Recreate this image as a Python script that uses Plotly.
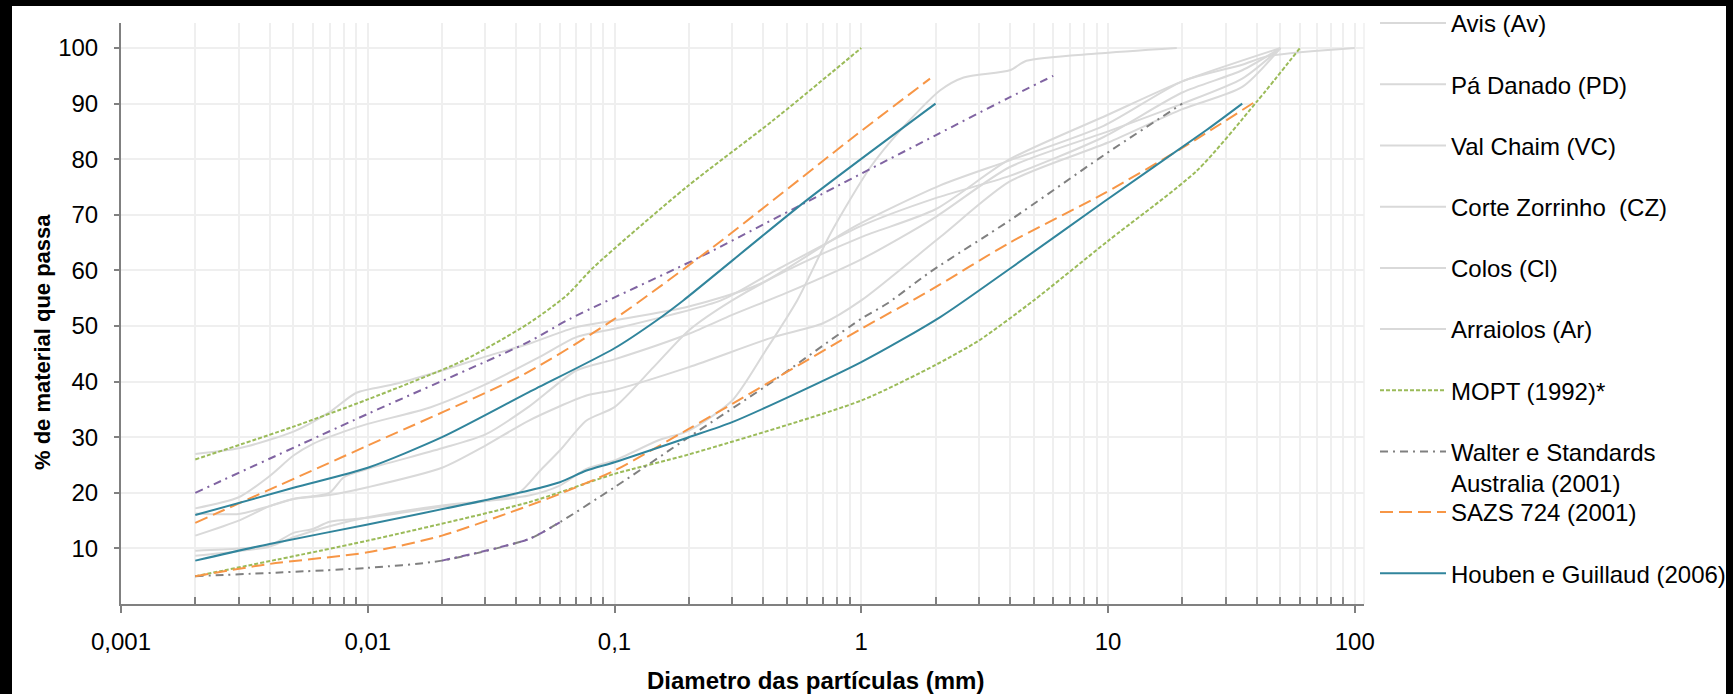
import plotly.graph_objects as go

# ---------------- data ----------------
avis_x = [0.002, 0.003, 0.005, 0.007, 0.009, 0.013, 0.02, 0.03, 0.045, 0.07, 0.1, 0.2, 0.39, 0.93, 2.09, 4, 9.6, 20, 35, 44, 100]
avis_y = [27, 28, 31, 34.5, 38, 39.6, 42, 44.5, 46.8, 49.8, 51, 53.5, 57.6, 67.8, 75.3, 79.8, 86, 94, 97, 98.5, 100]

pd_x = [0.002, 0.003, 0.004, 0.005, 0.006, 0.008, 0.01, 0.018, 0.03, 0.05, 0.07, 0.1, 0.27, 0.45, 1, 2, 4, 9.6, 20, 35, 50]
pd_y = [17.2, 19.2, 23, 26.7, 28.8, 31, 32.4, 35.4, 39.5, 44.5, 48, 49.5, 54.6, 60, 68, 73, 77, 84, 92, 96, 100]

vc_x = [0.002, 0.003, 0.004, 0.005, 0.007, 0.008, 0.01, 0.02, 0.03, 0.045, 0.07, 0.1, 0.2, 0.3, 0.5, 1, 2, 4, 10, 20, 35, 50]
vc_y = [16.3, 16.2, 17.6, 18.9, 20, 22.8, 24.3, 28, 30.5, 35.5, 42, 44, 48.6, 52, 56, 62, 69.6, 78.6, 85, 90, 94.5, 100]

cz_x = [0.002, 0.003, 0.004, 0.005, 0.007, 0.01, 0.02, 0.03, 0.045, 0.077, 0.1, 0.2, 0.44, 0.7, 1, 2.09, 4, 10, 20, 35, 50]
cz_y = [12.3, 15, 17.6, 18.9, 19.6, 21, 24.5, 28.5, 33, 37.5, 38.5, 42.6, 48, 50.5, 54.6, 66, 76, 83, 89, 93, 100]

cl_x = [0.002, 0.003, 0.004, 0.005, 0.006, 0.007, 0.01, 0.02, 0.03, 0.041, 0.05, 0.06, 0.077, 0.1, 0.144, 0.2, 0.3, 0.5, 1, 2, 4, 10, 20, 50]
cl_y = [9.6, 10, 10.5, 12.8, 13.5, 14.8, 15.5, 17.5, 18.5, 20, 24, 27.6, 33, 35.4, 42.6, 49.2, 54.6, 60, 66, 71, 80, 88, 94, 100]

ar_x = [0.002, 0.003, 0.004, 0.005, 0.007, 0.01, 0.02, 0.03, 0.045, 0.06, 0.077, 0.1, 0.15, 0.2, 0.3, 0.41, 0.55, 0.75, 1.09, 1.44, 2.09, 2.6, 4, 4.67, 9, 19]
ar_y = [8.7, 9.5, 10.3, 12, 14, 15.6, 17.7, 18.5, 19.5, 21.3, 24.3, 25.8, 29.4, 31.2, 36.6, 45.6, 54.6, 66.6, 78.6, 85.2, 92.4, 94.7, 96, 97.7, 99, 100]

mopt_up_x = [0.002, 0.005, 0.01, 0.0244, 0.0446, 0.064, 0.082, 0.196, 0.44, 1]
mopt_up_y = [26, 31.9, 36.8, 43.8, 50.4, 55.5, 60.5, 75, 87, 100]
mopt_lo_x = [0.002, 0.01, 0.045, 0.1, 0.2, 1, 2, 3, 5, 10, 23, 40, 60]
mopt_lo_y = [5, 11.4, 18.3, 23.4, 26.9, 36.6, 43, 47.4, 54.6, 65.3, 78, 90.3, 100]

walter_up_x = [0.002, 0.01, 0.0446, 0.066, 0.222, 0.6, 2, 3.9, 6]
walter_up_y = [20, 34.2, 47.1, 51.3, 62.4, 72.3, 84.3, 90.9, 95]
walter_lo_x = [0.002, 0.01, 0.02, 0.045, 0.06, 0.1, 0.2, 0.414, 1, 1.27, 1.9, 4, 9.6, 20]
walter_lo_y = [5, 6.5, 7.8, 11.7, 14.7, 21, 30, 39.3, 51.3, 54, 59.7, 69, 80.7, 90]

sazs_up_x = [0.002, 0.01, 0.0433, 0.098, 0.251, 0.93, 1.9]
sazs_up_y = [14.6, 28.5, 41.4, 51, 64.2, 84, 94.5]
sazs_lo_x = [0.002, 0.004, 0.01, 0.02, 0.045, 0.06, 0.1, 0.2, 0.3, 1, 1.9, 4, 9.6, 20.3, 40]
sazs_lo_y = [5, 7.2, 9.3, 12.3, 17.7, 19.8, 24, 31.5, 36, 49.5, 56.4, 65, 73.8, 82.2, 90.5]

houben_up_x = [0.002, 0.005, 0.01, 0.02, 0.045, 0.1, 0.148, 0.19, 0.6, 2]
houben_up_y = [16, 20.9, 24.5, 30, 38.1, 46, 51, 54.6, 72.6, 90]
houben_lo_x = [0.002, 0.004, 0.01, 0.045, 0.06, 0.077, 0.1, 0.2, 0.3, 1, 2.09, 4, 9.6, 25, 35]
houben_lo_y = [7.8, 10.8, 14.3, 20.4, 21.9, 24, 25.5, 30, 32.7, 43.5, 51.6, 60.3, 72.3, 85.2, 90]

soil_names = ["Avis (Av)", "Pá Danado (PD)", "Val Chaim (VC)", "Corte Zorrinho  (CZ)", "Colos (Cl)", "Arraiolos (Ar)"]
soil_data = [(avis_x, avis_y), (pd_x, pd_y), (vc_x, vc_y), (cz_x, cz_y), (cl_x, cl_y), (ar_x, ar_y)]

x_tick_vals = [0.001, 0.01, 0.1, 1, 10, 100]
x_tick_text = ["0,001", "0,01", "0,1", "1", "10", "100"]
y_tick_vals = [10, 20, 30, 40, 50, 60, 70, 80, 90, 100]

# ---------------- styles ----------------
FONT = "Liberation Sans, Arial, sans-serif"
FS = 24
GRAY = "#d9d9d9"
GREEN = "#9bbb59"
PURPLE = "#8064a2"
DGRAY = "#808080"
ORANGE = "#f79646"
TEAL = "#31859c"
GRID = "#efefef"

fig = go.Figure()

def line_trace(x, y, name, color, dash, group, show, legend="legend", width=2):
    return go.Scatter(
        x=x, y=y, name=name, mode="lines",
        line=dict(color=color, width=width, dash=dash, shape="spline", smoothing=0.7),
        legendgroup=group, showlegend=show, legend=legend, hoverinfo="name+x+y",
    )

for i, (name, (sx, sy)) in enumerate(zip(soil_names, soil_data)):
    fig.add_trace(line_trace(sx, sy, name, GRAY, "solid", f"s{i}", True))

MOPT_DASH = "4px,2px"
WAL_DASH = "8px,5px,2px,5px"
SAZS_DASH = "13px,6px"

fig.add_trace(line_trace(mopt_up_x, mopt_up_y, "MOPT (1992)*", GREEN, MOPT_DASH, "mopt", True))
fig.add_trace(line_trace(mopt_lo_x, mopt_lo_y, "MOPT (1992)*", GREEN, MOPT_DASH, "mopt", False))

fig.add_trace(line_trace(walter_lo_x, walter_lo_y, "Walter e Standards<br>Australia (2001)", DGRAY, WAL_DASH, "walter", True))
fig.add_trace(line_trace(walter_up_x, walter_up_y, "Walter e Standards Australia (2001)", PURPLE, WAL_DASH, "walter", False))
seg = [(a, b) for a, b in zip(walter_lo_x, walter_lo_y) if 0.02 <= a <= 0.06]
fig.add_trace(line_trace([p[0] for p in seg], [p[1] for p in seg], "Walter e Standards Australia (2001)", PURPLE, WAL_DASH, "walter", False))

fig.add_trace(line_trace(sazs_up_x, sazs_up_y, "SAZS 724 (2001)", ORANGE, SAZS_DASH, "sazs", True, legend="legend2"))
fig.add_trace(line_trace(sazs_lo_x, sazs_lo_y, "SAZS 724 (2001)", ORANGE, SAZS_DASH, "sazs", False, legend="legend2"))

fig.add_trace(line_trace(houben_up_x, houben_up_y, "Houben e Guillaud (2006)", TEAL, "solid", "houben", True, legend="legend2"))
fig.add_trace(line_trace(houben_lo_x, houben_lo_y, "Houben e Guillaud (2006)", TEAL, "solid", "houben", False, legend="legend2"))

minor_vals = [m * 10.0 ** e for e in range(-3, 2) for m in range(2, 10)]

# page geometry (the page's body margin is removed below, so page px == figure px)
OFF = 0
W, H = 1733, 694
ML, MT = 121, 23
PW, PH = 1243, 581
MR, MB = W - ML - PW, H - MT - PH

def px_x(page):
    return (page - OFF - ML) / PW

def px_y(page):
    return (MT + PH - (page - OFF)) / PH

legend_common = dict(
    xanchor="left", yanchor="top", bgcolor="rgba(0,0,0,0)",
    font=dict(family=FONT, size=FS, color="black"),
    itemwidth=66, tracegroupgap=27, traceorder="grouped", valign="top",
    itemclick=False, itemdoubleclick=False, maxheight=690,
)

fig.update_layout(
    width=W, height=H, autosize=False,
    margin=dict(l=ML, r=MR, t=MT, b=MB, pad=0, autoexpand=False),
    paper_bgcolor="black", plot_bgcolor="white",
    font=dict(family=FONT, size=FS, color="black"),
    showlegend=True,
    legend=dict(x=px_x(1375), y=px_y(1), **legend_common),
    legend2=dict(x=px_x(1375), y=px_y(490), **legend_common),
    xaxis=dict(
        type="log", range=[-3, 2.0375], autorange=False,
        tickmode="array", tickvals=x_tick_vals, ticktext=x_tick_text,
        showline=True, linecolor=DGRAY, linewidth=2,
        ticks="outside", ticklen=7, tickwidth=2, tickcolor=DGRAY,
        showgrid=True, gridcolor=GRID, gridwidth=1.5, zeroline=False,
        tickfont=dict(family=FONT, size=FS, color="black"),
        ticklabelstandoff=8,
        minor=dict(tickmode="array", tickvals=minor_vals, ticks="inside", ticklen=7,
                   tickwidth=1.5, tickcolor=DGRAY, showgrid=True, gridcolor=GRID, gridwidth=1.5),
    ),
    yaxis=dict(
        range=[0, 104.5], autorange=False,
        tickmode="array", tickvals=y_tick_vals,
        showline=True, linecolor=DGRAY, linewidth=2,
        ticks="outside", ticklen=5, tickwidth=2, tickcolor=DGRAY,
        showgrid=True, gridcolor=GRID, gridwidth=1.5, zeroline=False,
        tickfont=dict(family=FONT, size=FS, color="black"),
        ticklabelstandoff=11,
    ),
    shapes=[
        dict(type="rect", xref="paper", yref="paper", x0=px_x(12), x1=px_x(1726), y0=px_y(720), y1=px_y(6),
             fillcolor="white", line=dict(width=0), layer="below"),
        dict(type="line", xref="paper", yref="paper", x0=1, x1=1, y0=0, y1=1,
             line=dict(color=GRID, width=1.5), layer="below"),
    ],
    annotations=[
        dict(text="<b>Diametro das partículas (mm)</b>", xref="paper", yref="paper",
             x=px_x(815), y=px_y(680), xanchor="center", yanchor="middle", showarrow=False,
             font=dict(family=FONT, size=24, color="black")),
        dict(text="<b>% de material que passa</b>", xref="paper", yref="paper",
             x=px_x(42), y=px_y(342), xanchor="center", yanchor="middle", showarrow=False,
             textangle=-90, font=dict(family=FONT, size=22, color="black")),
    ],
)

fig.write_html(
    "out.html",
    config={"displayModeBar": False},
    post_script="document.body.style.margin='0';document.body.style.background='black';",
)
